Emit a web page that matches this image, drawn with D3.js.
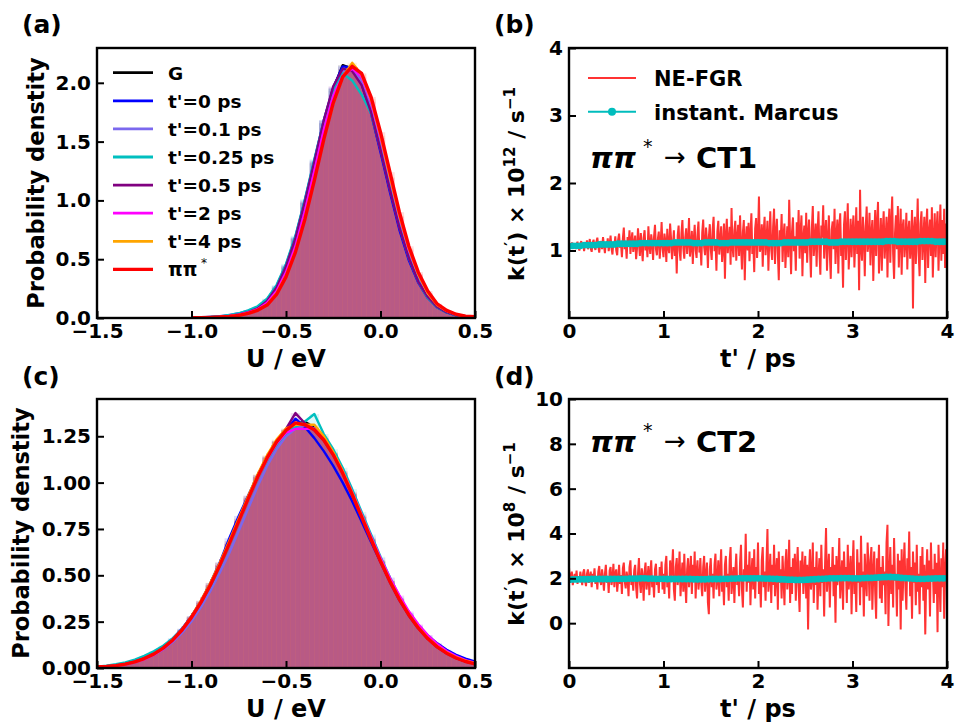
<!DOCTYPE html>
<html>
<head>
<meta charset="utf-8">
<script src="https://cdn.jsdelivr.net/npm/d3@7"></script>
<style>
body { margin: 0; background: #fff; }
svg text { font-family: "DejaVu Sans", sans-serif; font-weight: bold; }
</style>
</head>
<body>
<svg id="fig" width="955" height="723"></svg>
<script>
// ---------- data ----------

const seriesNames = ["G", "t'=0 ps", "t'=0.1 ps", "t'=0.25 ps", "t'=0.5 ps", "t'=2 ps", "t'=4 ps", "ππ*"];

// panel (a): densities on a 0.05 eV grid from -1.0 to 0.5
const energyGridA = d3.range(31).map(i => +(-1.0 + i * 0.05).toFixed(2));
const densA_G = [0.003,0.005,0.007,0.010,0.019,0.031,0.052,0.083,0.145,0.255,0.43,0.67,0.98,1.32,1.66,1.95,2.15,2.12,2.00,1.76,1.44,1.10,0.78,0.52,0.32,0.18,0.095,0.050,0.024,0.012,0.007];
const densA_t0 = [0.003,0.005,0.008,0.012,0.022,0.035,0.056,0.090,0.155,0.27,0.45,0.69,1.00,1.34,1.68,1.96,2.14,2.13,1.99,1.74,1.41,1.07,0.75,0.49,0.30,0.17,0.090,0.048,0.022,0.011,0.006];
const densA_t01 = [0.004,0.006,0.010,0.015,0.026,0.040,0.062,0.095,0.16,0.27,0.44,0.68,0.98,1.31,1.65,1.93,2.10,2.12,2.01,1.78,1.46,1.12,0.80,0.53,0.33,0.19,0.10,0.055,0.026,0.013,0.008];
const densA_t025 = [0.003,0.006,0.009,0.014,0.025,0.040,0.065,0.10,0.165,0.28,0.46,0.70,1.01,1.35,1.68,1.95,2.08,2.02,1.90,1.74,1.44,1.10,0.78,0.51,0.31,0.17,0.090,0.048,0.022,0.011,0.006];
const densA_t05 = [0.003,0.005,0.007,0.010,0.018,0.030,0.050,0.082,0.145,0.26,0.44,0.68,0.99,1.33,1.68,1.97,2.12,2.10,1.98,1.75,1.43,1.09,0.77,0.51,0.31,0.18,0.095,0.050,0.024,0.012,0.007];
const densA_t2 = [0.002,0.004,0.006,0.009,0.017,0.028,0.047,0.075,0.13,0.23,0.39,0.61,0.91,1.25,1.60,1.89,2.06,2.12,2.05,1.84,1.53,1.19,0.86,0.58,0.37,0.21,0.115,0.060,0.030,0.015,0.009];
const densA_t4 = [0.002,0.003,0.005,0.008,0.015,0.024,0.042,0.068,0.115,0.21,0.36,0.57,0.85,1.18,1.52,1.82,2.05,2.17,2.07,1.86,1.55,1.20,0.87,0.59,0.37,0.21,0.11,0.060,0.030,0.015,0.009];
const densA_pp = [0.002,0.003,0.005,0.008,0.014,0.022,0.040,0.065,0.11,0.20,0.35,0.56,0.84,1.17,1.52,1.83,2.05,2.14,2.08,1.88,1.58,1.24,0.90,0.61,0.39,0.23,0.12,0.065,0.032,0.016,0.010];

// panel (a): pooled histogram, 0.025 eV bins starting at -1.0
const histStartA = -1.0;
const histA = [0.003,0.004,0.005,0.006,0.008,0.010,0.013,0.017,0.022,0.028,
  0.035,0.045,0.055,0.07,0.09,0.12,0.16,0.21,0.28,0.36,
  0.46,0.58,0.71,0.86,1.02,1.19,1.36,1.53,1.70,1.84,
  1.96,2.06,2.12,2.14,2.13,2.07,1.99,1.87,1.73,1.57,
  1.40,1.22,1.05,0.89,0.74,0.60,0.48,0.38,0.29,0.22,
  0.17,0.12,0.088,0.062,0.044,0.030,0.020,0.014,0.010,0.007];

// panel (c): densities on a 0.05 eV grid from -1.5 to 0.5
const energyGridC = d3.range(41).map(i => +(-1.5 + i * 0.05).toFixed(2));
const densC_G = [0.005,0.008,0.013,0.021,0.033,0.050,0.074,0.104,0.146,0.200,0.268,0.350,0.445,0.553,0.670,0.792,0.915,1.032,1.136,1.222,1.284,1.318,1.328,1.296,1.238,1.156,1.055,0.940,0.818,0.695,0.577,0.468,0.371,0.287,0.217,0.160,0.115,0.081,0.055,0.036,0.023];
const densC_t0 = [0.006,0.010,0.016,0.025,0.038,0.057,0.082,0.114,0.158,0.212,0.280,0.362,0.458,0.570,0.700,0.820,0.930,1.040,1.140,1.222,1.280,1.345,1.300,1.240,1.170,1.090,1.000,0.900,0.790,0.680,0.572,0.470,0.378,0.298,0.230,0.176,0.133,0.098,0.071,0.050,0.035];
const densC_t01 = [0.006,0.009,0.014,0.022,0.033,0.050,0.072,0.100,0.140,0.190,0.252,0.328,0.416,0.515,0.620,0.740,0.860,0.980,1.090,1.180,1.250,1.290,1.310,1.292,1.240,1.160,1.060,0.945,0.822,0.700,0.582,0.472,0.374,0.290,0.220,0.163,0.118,0.084,0.058,0.039,0.026];
const densC_t025 = [0.007,0.012,0.020,0.030,0.045,0.065,0.090,0.120,0.160,0.210,0.275,0.352,0.442,0.548,0.662,0.785,0.905,1.020,1.120,1.205,1.265,1.300,1.330,1.370,1.262,1.180,1.080,0.965,0.842,0.720,0.600,0.488,0.386,0.298,0.224,0.164,0.117,0.082,0.056,0.037,0.024];
const densC_t05 = [0.005,0.008,0.014,0.022,0.034,0.052,0.076,0.108,0.151,0.206,0.276,0.360,0.456,0.565,0.682,0.803,0.924,1.040,1.142,1.226,1.290,1.375,1.320,1.282,1.228,1.150,1.050,0.936,0.814,0.690,0.572,0.462,0.365,0.282,0.213,0.157,0.112,0.078,0.053,0.035,0.022];
const densC_t2 = [0.004,0.007,0.012,0.019,0.030,0.047,0.070,0.102,0.146,0.202,0.272,0.354,0.448,0.554,0.670,0.790,0.910,1.025,1.125,1.210,1.268,1.290,1.290,1.290,1.240,1.160,1.062,0.950,0.830,0.710,0.594,0.487,0.392,0.306,0.236,0.178,0.130,0.092,0.064,0.043,0.028];
const densC_t4 = [0.005,0.008,0.013,0.021,0.033,0.051,0.075,0.107,0.151,0.208,0.280,0.364,0.460,0.568,0.685,0.806,0.928,1.045,1.148,1.232,1.292,1.312,1.312,1.312,1.250,1.165,1.062,0.946,0.824,0.700,0.582,0.472,0.374,0.290,0.220,0.163,0.118,0.084,0.058,0.039,0.026];
const densC_pp = [0.005,0.008,0.013,0.021,0.033,0.051,0.075,0.107,0.150,0.205,0.273,0.354,0.448,0.555,0.671,0.792,0.914,1.030,1.133,1.220,1.282,1.322,1.312,1.285,1.230,1.150,1.050,0.936,0.815,0.693,0.576,0.467,0.370,0.286,0.216,0.159,0.114,0.080,0.054,0.035,0.022];

// panel (c): pooled histogram, 0.025 eV bins starting at -1.5
const histStartC = -1.5;
const histC = [0.007,0.008,0.011,0.013,0.017,0.021,0.026,0.032,0.040,0.049,
  0.059,0.071,0.085,0.101,0.120,0.141,0.166,0.193,0.223,0.257,
  0.294,0.335,0.379,0.426,0.476,0.529,0.585,0.643,0.702,0.763,
  0.824,0.885,0.944,1.002,1.057,1.108,1.156,1.199,1.235,1.266,
  1.289,1.306,1.315,1.316,1.310,1.297,1.276,1.248,1.214,1.173,
  1.128,1.078,1.025,0.968,0.909,0.848,0.788,0.727,0.667,0.608,
  0.552,0.497,0.446,0.397,0.352,0.310,0.272,0.237,0.205,0.176,
  0.151,0.128,0.109,0.092,0.077,0.064,0.052,0.043,0.035,0.028];
const histBin = 0.025;

// panel (b): rate ×1e12 s^-1, NE-FGR every 0.01 ps, Marcus every 0.04 ps
const fgrB = [1.04,1.10,1.06,1.12,1.03,1.08,1.11,1.02,1.09,1.13,
  1.05,1.00,1.10,1.14,1.04,1.09,0.99,1.12,1.07,1.15,
  1.02,1.08,1.17,1.03,0.98,1.11,1.16,1.05,1.01,1.13,
  1.19,1.06,0.97,1.10,1.14,1.02,1.20,1.08,0.96,1.12,
  1.05,1.18,0.99,1.09,1.22,1.03,0.94,1.13,1.07,1.21,
  1.00,0.93,1.16,1.25,1.04,1.10,0.90,1.18,1.34,1.02,
  1.12,0.88,1.20,1.06,1.30,0.95,1.15,1.27,0.98,1.09,
  1.22,0.87,1.03,1.33,1.11,0.92,1.26,1.05,0.84,1.19,
  1.30,1.00,1.14,0.90,1.36,1.08,0.95,1.24,1.12,0.86,
  1.21,1.38,1.02,0.93,1.17,1.28,0.88,1.10,1.42,1.04,
  0.90,1.25,1.13,0.83,1.32,1.05,0.96,1.40,1.18,0.87,
  1.08,1.30,0.92,1.15,0.66,1.22,1.37,1.00,0.85,1.26,
  1.45,1.03,0.88,1.19,1.33,0.95,1.12,1.48,0.91,1.06,
  1.29,0.80,1.16,1.38,1.01,0.89,1.24,1.43,0.97,1.10,
  0.78,1.27,1.46,1.05,0.93,1.34,1.14,0.74,1.20,1.39,
  1.02,0.86,1.31,1.50,0.99,1.17,0.70,1.28,1.44,0.94,
  1.12,1.36,0.83,1.05,1.40,0.58,1.22,1.47,0.96,1.14,
  1.35,0.79,1.63,1.06,0.90,1.30,1.44,0.85,1.18,1.38,
  0.92,1.52,1.10,0.72,1.27,1.45,0.56,1.16,1.36,1.00,
  1.41,0.84,1.23,1.55,0.95,1.12,0.68,1.33,1.48,0.89,
  1.20,1.80,0.98,1.06,1.39,0.76,1.28,1.50,0.93,1.15,
  1.44,0.70,1.18,1.58,1.02,0.86,1.35,1.62,0.80,1.25,
  1.47,0.95,0.56,1.30,1.12,1.54,0.83,1.22,1.40,0.74,
  1.08,1.36,0.90,1.75,1.15,0.65,1.28,1.49,0.99,1.21,
  0.70,1.42,1.10,1.60,0.88,1.26,1.52,0.62,1.18,1.37,
  0.96,1.56,0.82,1.23,1.46,1.04,0.60,1.33,1.66,0.92,
  1.14,1.40,0.76,1.29,1.58,0.98,0.64,1.37,1.19,1.67,
  0.88,1.25,1.45,0.70,1.16,1.52,0.95,0.58,1.31,1.43,
  1.02,1.62,0.80,1.20,1.46,0.66,1.34,1.55,0.92,1.10,
  0.45,1.38,1.58,0.86,1.24,1.70,0.72,1.08,1.47,0.90,
  1.30,1.52,0.75,1.17,1.64,0.95,1.44,0.41,1.90,1.05,
  0.85,1.50,1.22,0.62,1.35,1.65,0.98,1.12,1.56,0.78,
  1.26,1.45,0.55,1.18,1.60,0.92,1.38,1.72,0.66,1.10,
  1.48,0.70,1.28,1.58,0.88,1.15,1.50,0.60,1.33,1.62,
  0.82,1.40,1.80,0.95,0.58,1.26,1.52,1.02,1.66,0.75,
  1.20,1.62,0.64,1.34,1.46,0.90,1.12,1.56,0.72,1.28,
  1.44,0.88,1.10,1.60,0.14,1.30,1.50,0.80,1.22,1.77,
  0.96,0.62,1.40,1.58,0.86,1.18,1.50,0.52,1.35,1.62,
  0.74,1.25,1.46,0.92,1.64,0.60,1.15,1.55,0.90,1.32,
  1.58,0.70,1.22,1.68,0.85,1.45,0.95,1.62,0.74,1.40,
  1.05];
const marcusB = [1.06,1.07,1.07,1.07,1.08,1.08,1.08,1.08,1.09,1.09,
  1.09,1.09,1.09,1.10,1.10,1.10,1.10,1.10,1.10,1.11,
  1.11,1.11,1.11,1.11,1.11,1.11,1.11,1.11,1.12,1.12,
  1.12,1.12,1.12,1.11,1.11,1.11,1.12,1.12,1.12,1.12,
  1.11,1.11,1.11,1.12,1.12,1.12,1.12,1.12,1.12,1.12,
  1.12,1.12,1.12,1.11,1.11,1.11,1.11,1.12,1.12,1.12,
  1.12,1.12,1.12,1.12,1.13,1.13,1.13,1.13,1.13,1.12,
  1.12,1.12,1.13,1.13,1.13,1.13,1.13,1.13,1.13,1.13,
  1.13,1.13,1.13,1.13,1.14,1.14,1.14,1.13,1.13,1.13,
  1.13,1.13,1.13,1.14,1.14,1.14,1.14,1.13,1.13,1.13,
  1.13];

// panel (d): rate ×1e8 s^-1
const fgrD = [2.5,1.8,2.1,2.3,1.7,2.0,2.2,1.9,2.35,1.75,
  2.1,1.85,2.3,2.0,1.7,2.25,2.4,1.9,1.65,2.2,
  2.4,1.8,2.05,2.3,1.6,2.2,1.95,2.45,1.75,2.1,
  1.5,2.3,2.55,1.9,1.7,2.4,2.0,1.45,2.2,2.6,
  1.8,2.1,1.35,2.35,2.5,1.7,2.0,2.65,1.6,2.2,
  2.4,1.4,1.9,2.6,1.75,2.15,1.3,2.45,2.7,1.85,
  1.55,2.3,2.0,1.2,2.5,2.8,1.7,2.1,1.45,2.35,
  2.6,1.6,1.1,2.2,2.9,1.8,1.35,2.45,2.05,1.0,
  2.3,2.7,1.5,1.9,2.55,1.25,2.2,2.8,1.6,2.0,
  1.15,2.4,2.65,1.7,2.1,1.35,2.5,1.85,2.75,1.5,
  2.2,1.3,2.6,3.0,1.6,2.1,1.1,2.8,1.9,2.4,
  3.3,1.5,1.0,2.5,2.9,1.7,2.2,3.2,1.2,2.0,
  2.7,1.4,3.1,1.8,0.9,2.4,2.9,1.6,2.2,3.0,
  1.3,2.6,1.9,3.2,1.1,2.3,2.8,1.5,2.0,2.9,
  1.7,1.2,2.5,3.0,1.4,2.1,2.7,0.9,0.4,2.4,
  2.9,1.6,2.2,1.1,2.6,3.1,1.5,1.9,2.8,1.2,
  2.3,3.3,1.4,2.0,0.8,2.6,3.0,1.6,2.2,1.0,
  2.8,3.4,1.3,1.9,2.5,0.9,2.3,3.1,1.7,2.1,
  1.2,2.7,3.5,1.5,0.7,2.4,2.0,3.99,1.4,2.6,
  1.8,3.2,0.8,2.2,2.9,1.5,3.3,1.1,2.5,1.9,
  3.6,1.3,2.1,0.7,2.8,3.4,1.6,2.3,1.0,2.7,
  4.2,1.4,2.0,3.1,0.9,2.6,1.7,3.5,1.2,2.2,
  2.9,0.6,3.2,1.8,2.4,1.1,3.0,2.0,0.8,2.7,
  3.3,1.5,2.1,3.72,0.9,2.5,1.3,2.9,1.8,3.1,
  1.0,2.4,3.4,1.6,0.5,2.8,2.0,3.2,1.3,2.2,
  3.0,1.1,2.6,-0.28,2.3,3.3,1.5,2.0,3.6,0.9,
  2.5,1.7,3.2,0.6,2.1,2.9,1.2,3.5,1.8,2.4,
  0.3,2.7,4.24,1.4,2.2,3.1,0.7,2.5,1.9,3.4,
  1.2,2.6,0.02,3.0,1.7,2.3,3.8,1.1,2.0,2.8,
  0.6,3.2,1.9,2.5,0.9,3.5,1.5,2.2,3.0,0.4,
  2.4,3.7,1.3,2.0,0.5,3.3,1.8,2.7,0.8,3.9,
  1.6,2.3,0.3,3.1,2.0,1.2,3.6,2.5,1.0,2.8,
  3.4,0.6,2.2,3.2,1.4,0.2,2.9,1.9,3.5,1.1,
  2.5,0.9,3.0,1.7,2.3,0.4,3.6,4.39,-0.13,2.1,
  3.4,1.3,2.6,0.7,3.8,1.9,2.2,0.3,3.1,1.5,
  2.8,-0.28,3.3,1.0,2.4,3.6,1.6,0.6,2.9,2.0,
  4.09,1.2,2.5,0.2,3.2,1.8,2.7,0.8,3.5,1.4,
  2.2,0.4,3.0,1.6,3.4,1.0,2.6,-0.5,2.0,3.3,
  1.5,2.8,0.3,3.6,1.9,2.4,0.9,3.1,1.3,2.7,
  -0.4,3.5,2.0,0.5,2.9,1.6,3.6,0.2,2.3,3.3,
  2.0];
const marcusD = [1.94,1.95,1.95,1.96,1.96,1.96,1.97,1.97,1.97,1.97,
  1.97,1.97,1.98,1.98,1.98,1.98,1.99,1.99,1.99,2.00,
  2.00,1.99,1.99,1.98,1.98,1.98,1.97,1.97,1.97,1.97,
  1.97,1.97,1.97,1.96,1.96,1.96,1.96,1.97,1.97,1.97,
  1.97,1.98,1.98,1.99,1.99,2.00,2.00,2.00,2.00,2.00,
  2.00,2.00,1.99,1.99,1.98,1.97,1.96,1.95,1.94,1.94,
  1.93,1.93,1.93,1.94,1.95,1.96,1.97,1.98,1.99,2.00,
  2.00,2.00,2.01,2.01,2.01,2.00,2.00,2.00,2.01,2.02,
  2.02,2.03,2.04,2.05,2.06,2.06,2.05,2.04,2.02,2.01,
  2.00,1.99,1.98,1.98,1.98,1.99,1.99,2.00,2.00,2.00,
  2.00];

const energyTicks = [-1.5, -1.0, -0.5, 0.0, 0.5];
const timeTicks = [0, 1, 2, 3, 4];
const densTicksA = [0.0, 0.5, 1.0, 1.5, 2.0];
const densTicksC = [0.00, 0.25, 0.50, 0.75, 1.00, 1.25];
const rateTicksB = [1, 2, 3, 4];
const rateTicksD = [0, 2, 4, 6, 8, 10];

// ---------- styles ----------
const seriesColors = ["#000000", "#0000ff", "#7b68ee", "#00bfbf", "#800080", "#ff00ff", "#ffa500", "#ff0000"];
const histColor = "#b85a85";
const fgrColor = "#ff3333";
const marcusColor = "#00bdbd";

const svg = d3.select("#fig");

function makePanel(id, box, xDom, yDom) {
	const x = d3.scaleLinear().domain(xDom).range([box.x0, box.x1]);
	const y = d3.scaleLinear().domain(yDom).range([box.y1, box.y0]);
	svg.append("clipPath").attr("id", "clip-" + id)
		.append("rect")
		.attr("x", box.x0).attr("y", box.y0)
		.attr("width", box.x1 - box.x0).attr("height", box.y1 - box.y0);
	const plot = svg.append("g").attr("clip-path", `url(#clip-${id})`);
	return { x, y, plot, box };
}

function finishPanel(p, xTicks, yTicks, xFmt, yFmt) {
	const styleAxis = g => {
		g.select(".domain").remove();
		g.attr("font-family", "DejaVu Sans").attr("font-size", 20).attr("font-weight", "bold");
		g.selectAll(".tick line").attr("stroke", "#000").attr("stroke-width", 2);
		g.selectAll(".tick text").attr("fill", "#000");
	};
	svg.append("g")
		.attr("transform", `translate(0,${p.box.y1})`)
		.call(d3.axisBottom(p.x).tickValues(xTicks).tickFormat(d3.format(xFmt))
			.tickSizeInner(-7).tickSizeOuter(0).tickPadding(6))
		.call(styleAxis);
	svg.append("g")
		.attr("transform", `translate(${p.box.x0},0)`)
		.call(d3.axisLeft(p.y).tickValues(yTicks).tickFormat(d3.format(yFmt))
			.tickSizeInner(-7).tickSizeOuter(0).tickPadding(6))
		.call(styleAxis);
	svg.append("rect")
		.attr("x", p.box.x0).attr("y", p.box.y0)
		.attr("width", p.box.x1 - p.box.x0).attr("height", p.box.y1 - p.box.y0)
		.attr("fill", "none").attr("stroke", "#000").attr("stroke-width", 2.4);
}

function drawDistributions(p, grid, dens, histStart, hist) {
	// faint per-series bars give the coloured fringe around the pooled histogram
	dens.forEach((vals, k) => {
		p.plot.append("g").selectAll("rect")
			.data(vals)
			.join("rect")
			.attr("x", (d, i) => p.x(grid[i] - 0.025))
			.attr("width", p.x(0.05) - p.x(0))
			.attr("y", d => p.y(d))
			.attr("height", d => p.y(0) - p.y(d))
			.attr("fill", seriesColors[k])
			.attr("opacity", 0.13);
	});
	p.plot.append("g").selectAll("rect")
		.data(hist)
		.join("rect")
		.attr("x", (d, i) => p.x(histStart + i * histBin))
		.attr("width", p.x(histBin) - p.x(0) + 0.3)
		.attr("y", d => p.y(d))
		.attr("height", d => p.y(0) - p.y(d))
		.attr("fill", histColor)
		.attr("stroke", "#c2607c")
		.attr("stroke-width", 0.5);
	const line = d3.line().x((d, i) => p.x(grid[i])).y(d => p.y(d));
	dens.forEach((vals, k) => {
		p.plot.append("path")
			.attr("d", line(vals))
			.attr("fill", "none")
			.attr("stroke", seriesColors[k])
			.attr("stroke-width", k === 7 ? 3.4 : 2.4)
			.attr("stroke-linejoin", "round");
	});
}

function drawRates(p, fgr, marcus) {
	const tF = fgr.map((d, i) => i * 0.01);
	const tM = marcus.map((d, i) => i * 0.04);
	p.plot.append("path")
		.attr("d", d3.line().x((d, i) => p.x(tF[i])).y(d => p.y(d))(fgr))
		.attr("fill", "none")
		.attr("stroke", fgrColor)
		.attr("stroke-width", 2)
		.attr("stroke-linejoin", "bevel");
	p.plot.append("path")
		.attr("d", d3.line().x((d, i) => p.x(tM[i])).y(d => p.y(d))(marcus))
		.attr("fill", "none")
		.attr("stroke", marcusColor)
		.attr("stroke-width", 2);
	p.plot.append("g").selectAll("circle")
		.data(marcus)
		.join("circle")
		.attr("cx", (d, i) => p.x(tM[i]))
		.attr("cy", d => p.y(d))
		.attr("r", 3.4)
		.attr("fill", marcusColor);
}

function transitionLabel(x, y, target) {
	const t = svg.append("text").attr("font-size", 29).attr("fill", "#000");
	t.append("tspan").attr("x", x).attr("y", y).attr("font-style", "italic").text("ππ");
	t.append("tspan").attr("x", x + 53).attr("y", y - 15).attr("font-size", 19).attr("font-weight", "normal").text("*");
	t.append("tspan").attr("x", x + 74).attr("y", y - 2).attr("font-size", 26).attr("font-weight", "normal").text("→");
	t.append("tspan").attr("x", x + 106).attr("y", y).text(target);
}

function rateLabel(cx, cy, power) {
	const t = svg.append("text")
		.attr("transform", `translate(${cx},${cy}) rotate(-90)`)
		.attr("text-anchor", "middle")
		.attr("font-size", 22)
		.attr("fill", "#000");
	t.append("tspan").text("k(t");
	t.append("tspan").attr("font-size", 15).attr("dy", -8).text("′");
	t.append("tspan").attr("dy", 8).text(") × 10");
	t.append("tspan").attr("font-size", 15).attr("dy", -9).text(power);
	t.append("tspan").attr("dy", 9).text(" / s");
	t.append("tspan").attr("font-size", 15).attr("dy", -9).text("−1");
}

// ---------- panels ----------
const pa = makePanel("a", { x0: 97, x1: 475, y0: 48, y1: 318 }, [-1.5, 0.5], [0, 2.296]);
drawDistributions(pa, energyGridA,
	[densA_G, densA_t0, densA_t01, densA_t025, densA_t05, densA_t2, densA_t4, densA_pp],
	histStartA, histA);
finishPanel(pa, energyTicks, densTicksA, ".1f", ".1f");

const pc = makePanel("c", { x0: 97, x1: 475, y0: 399, y1: 668 }, [-1.5, 0.5], [0, 1.451]);
drawDistributions(pc, energyGridC,
	[densC_G, densC_t0, densC_t01, densC_t025, densC_t05, densC_t2, densC_t4, densC_pp],
	histStartC, histC);
finishPanel(pc, energyTicks, densTicksC, ".1f", ".2f");

const pb = makePanel("b", { x0: 569, x1: 947, y0: 48, y1: 318 }, [0, 4], [0, 4]);
drawRates(pb, fgrB, marcusB);
finishPanel(pb, timeTicks, rateTicksB, "d", "d");

const pd = makePanel("d", { x0: 569, x1: 947, y0: 399, y1: 668 }, [0, 4], [-2, 10]);
drawRates(pd, fgrD, marcusD);
finishPanel(pd, timeTicks, rateTicksD, "d", "d");

// legend of panel (a)
seriesNames.forEach((name, k) => {
	const yy = 72.7 + k * 28.1;
	svg.append("line")
		.attr("x1", 113).attr("x2", 153).attr("y1", yy).attr("y2", yy)
		.attr("stroke", seriesColors[k]).attr("stroke-width", k === 7 ? 3.4 : 2.8);
	const t = svg.append("text").attr("x", 168).attr("y", yy + 7).attr("font-size", 18.5).attr("fill", "#000");
	if (name === "ππ*") {
		t.append("tspan").text("ππ");
		t.append("tspan").attr("dy", -9).attr("font-size", 12).attr("font-weight", "normal").text(" *");
	} else {
		t.text(name);
	}
});

// legend of panel (b)
svg.append("line").attr("x1", 588).attr("x2", 636).attr("y1", 78).attr("y2", 78)
	.attr("stroke", fgrColor).attr("stroke-width", 1.8);
svg.append("text").attr("x", 654).attr("y", 86).attr("font-size", 21).text("NE-FGR");
svg.append("line").attr("x1", 588).attr("x2", 636).attr("y1", 111.7).attr("y2", 111.7)
	.attr("stroke", marcusColor).attr("stroke-width", 2);
svg.append("circle").attr("cx", 612).attr("cy", 111.7).attr("r", 4).attr("fill", marcusColor);
svg.append("text").attr("x", 654).attr("y", 119.5).attr("font-size", 21).text("instant. Marcus");

transitionLabel(590, 168, "CT1");
transitionLabel(590, 452, "CT2");

// axis titles
const titles = [
	{ x: 286, y: 366.5, t: "U / eV" },
	{ x: 286, y: 717, t: "U / eV" },
	{ x: 758, y: 366.5, t: "t' / ps" },
	{ x: 758, y: 717, t: "t' / ps" }
];
titles.forEach(d => {
	svg.append("text").attr("x", d.x).attr("y", d.y).attr("text-anchor", "middle")
		.attr("font-size", 24).text(d.t);
});
svg.append("text").attr("transform", "translate(44,183) rotate(-90)")
	.attr("text-anchor", "middle").attr("font-size", 22.5).text("Probability denstity");
svg.append("text").attr("transform", "translate(29,533) rotate(-90)")
	.attr("text-anchor", "middle").attr("font-size", 22.5).text("Probability denstity");
rateLabel(524, 184, "12");
rateLabel(524, 534, "8");

// panel letters
[["(a)", 22, 33], ["(b)", 494, 33], ["(c)", 22, 385], ["(d)", 494, 385]].forEach(d => {
	svg.append("text").attr("x", d[1]).attr("y", d[2]).attr("font-size", 25).text(d[0]);
});
</script>
</body>
</html>
